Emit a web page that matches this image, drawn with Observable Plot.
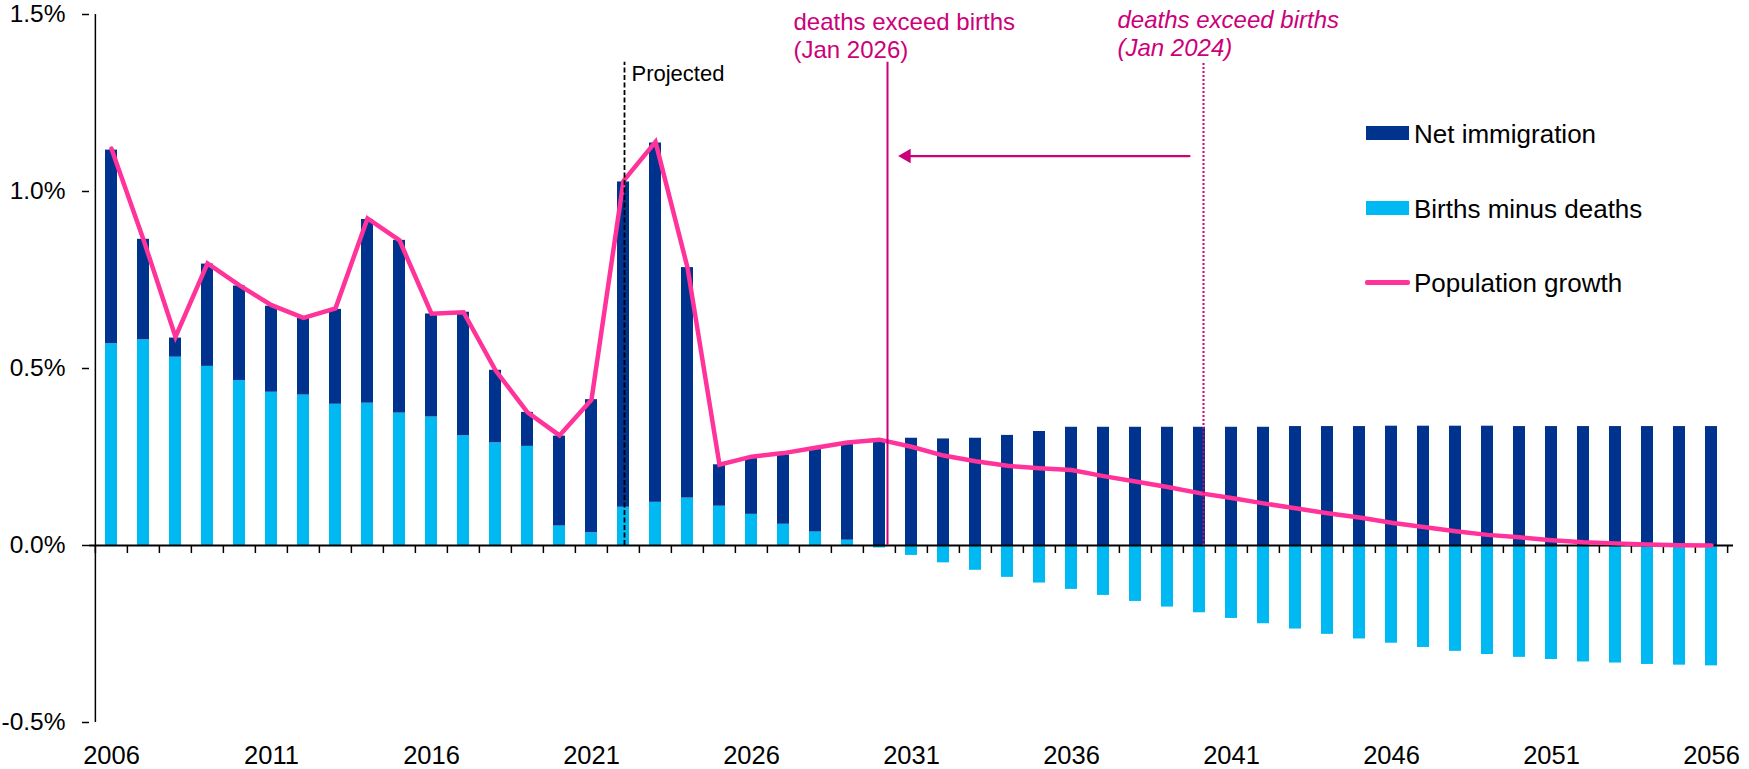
<!DOCTYPE html>
<html>
<head>
<meta charset="utf-8">
<script src="https://cdn.jsdelivr.net/npm/d3@7"></script>
<script src="https://cdn.jsdelivr.net/npm/@observablehq/plot@0.6"></script>
<style>
  body { margin: 0; background: #fff; font-family: "Liberation Sans", Arial, Helvetica, sans-serif; }
  #wrap { position: relative; width: 1749px; height: 769px; overflow: hidden; }
  #wrap svg { position: absolute; left: 0; top: 0; }
  .lg-sw { position: absolute; }
  .lg-tx { position: absolute; font-size: 26px; line-height: 1; color: #000; white-space: nowrap; transform: translateY(-50%); }
</style>
</head>
<body>
<div id="wrap"></div>
<script>
// ---------- data ----------
const years = [2006, 2007, 2008, 2009, 2010, 2011, 2012, 2013, 2014, 2015,
  2016, 2017, 2018, 2019, 2020, 2021, 2022, 2023, 2024, 2025,
  2026, 2027, 2028, 2029, 2030, 2031, 2032, 2033, 2034, 2035,
  2036, 2037, 2038, 2039, 2040, 2041, 2042, 2043, 2044, 2045,
  2046, 2047, 2048, 2049, 2050, 2051, 2052, 2053, 2054, 2055, 2056];

const netImmigration = [0.547, 0.284, 0.054, 0.289, 0.267, 0.243, 0.217, 0.268, 0.519, 0.488,
  0.291, 0.349, 0.205, 0.096, 0.254, 0.376, 0.919, 1.015, 0.651, 0.117,
  0.161, 0.196, 0.233, 0.270, 0.298, 0.303, 0.301, 0.303, 0.311, 0.322,
  0.334, 0.334, 0.334, 0.334, 0.334, 0.334, 0.334, 0.336, 0.336, 0.336,
  0.337, 0.337, 0.337, 0.337, 0.336, 0.336, 0.336, 0.336, 0.336, 0.336, 0.336];

const birthsMinusDeaths = [0.570, 0.581, 0.532, 0.506, 0.466, 0.433, 0.425, 0.399, 0.402, 0.374,
  0.363, 0.310, 0.290, 0.280, 0.055, 0.036, 0.108, 0.122, 0.134, 0.111,
  0.088, 0.060, 0.038, 0.015, -0.007, -0.028, -0.049, -0.070, -0.090, -0.106,
  -0.124, -0.141, -0.158, -0.174, -0.190, -0.206, -0.221, -0.236, -0.251, -0.264,
  -0.276, -0.288, -0.299, -0.308, -0.316, -0.322, -0.329, -0.332, -0.336, -0.338, -0.340];

const populationGrowth = [1.121, 0.864, 0.589, 0.797, 0.735, 0.679, 0.643, 0.670, 0.924, 0.862,
  0.655, 0.659, 0.495, 0.376, 0.311, 0.412, 1.030, 1.140, 0.785, 0.228,
  0.251, 0.261, 0.276, 0.291, 0.299, 0.279, 0.254, 0.238, 0.225, 0.218,
  0.213, 0.196, 0.181, 0.165, 0.148, 0.134, 0.119, 0.105, 0.091, 0.079,
  0.064, 0.052, 0.040, 0.030, 0.023, 0.015, 0.009, 0.006, 0.003, 0.001, 0.000];

const xLabelYears = [2006, 2011, 2016, 2021, 2026, 2031, 2036, 2041, 2046, 2051, 2056];
const yTicks = [-0.5, 0, 0.5, 1.0, 1.5];

const barSeries = ["Births minus deaths", "Net immigration"];
const lineSeries = "Population growth";
const legendOrder = ["Net immigration", "Births minus deaths", "Population growth"];

// annotations (data units)
const projectedYear = 2022;
const projectedLabel = "Projected";
const newCrossYear = 2030;
const newCrossLabel = "deaths exceed births\n(Jan 2026)";
const oldCrossYear = 2040;
const oldCrossLabel = "deaths exceed births\n(Jan 2024)";
const markerTop = 1.365;
const projectedLabelY = 1.312;
const newLabelY = 1.378;
const oldLabelY = 1.384;
const arrowY = 1.10;

// ---------- styles ----------
const DARK = "#00338d", LIGHT = "#00b9f2", PINK = "#ff3399", MAGENTA = "#cc007a";
const colorOf = {"Net immigration": DARK, "Births minus deaths": LIGHT, "Population growth": PINK};
const FONT = '"Liberation Sans", Arial, Helvetica, sans-serif';

const W = 1749, H = 769, ML = 89, MR = 16, MT = 14, MB = 47;
const step = (W - ML - MR) / years.length;

// ---------- tables ----------
const barRows = years.flatMap((yr, i) => [
  {year: yr, series: barSeries[0], value: birthsMinusDeaths[i]},
  {year: yr, series: barSeries[1], value: netImmigration[i]}
]);
const lineRows = years.map((yr, i) => ({year: yr, value: populationGrowth[i]}));

const plot = Plot.plot({
  width: W, height: H,
  marginLeft: ML, marginRight: MR, marginTop: MT, marginBottom: MB,
  style: {fontFamily: FONT, fontSize: "25px", color: "#000", background: "transparent", overflow: "visible"},
  x: {type: "band", domain: years, padding: 0},
  y: {domain: [yTicks[0], yTicks[yTicks.length - 1]]},
  color: {domain: barSeries, range: barSeries.map(s => colorOf[s])},
  marks: [
    Plot.barY(barRows, {x: "year", y: "value", fill: "series", insetLeft: 10, insetRight: 10}),
    // y axis line
    Plot.ruleX([years[0]], {x: d => d, y1: yTicks[0], y2: yTicks[yTicks.length - 1], dx: -step / 2, stroke: "#000", strokeWidth: 1.5}),
    Plot.axisY({ticks: yTicks, tickSize: 7, tickPadding: 17, tickFormat: d => d.toFixed(1) + "%", fontSize: 24.5, stroke: "#000", strokeWidth: 1.5, fill: "#000"}),
    Plot.axisX({ticks: xLabelYears, tickSize: 0, tickPadding: 23, tickFormat: d => String(d), fontSize: 25.5, fill: "#000"}),
    // zero line and boundary ticks
    Plot.ruleY([0], {stroke: "#000", strokeWidth: 2}),
    Plot.ruleX(years, {x: d => d, y1: 0, y2: 0, insetBottom: -8, dx: -step / 2, stroke: "#000", strokeWidth: 1.5}),
    Plot.ruleX([years[years.length - 1]], {x: d => d, y1: 0, y2: 0, insetBottom: -8, dx: step / 2, stroke: "#000", strokeWidth: 1.5}),
    // population growth line
    Plot.lineY(lineRows, {x: "year", y: "value", stroke: PINK, strokeWidth: 4.5, strokeLinejoin: "miter", strokeMiterlimit: 6}),
    // projected marker
    Plot.ruleX([projectedYear], {x: d => d, y1: 0, y2: markerTop, dx: 1, stroke: "#000", strokeWidth: 1.8, strokeDasharray: "5,2.5"}),
    Plot.text([projectedYear], {x: d => d, y: projectedLabelY, text: () => projectedLabel, textAnchor: "start", lineAnchor: "bottom", dx: 8, fontSize: 22, fill: "#000"}),
    // new crossover marker
    Plot.ruleX([newCrossYear], {x: d => d, y1: 0, y2: markerTop, dx: 8, stroke: MAGENTA, strokeWidth: 2}),
    Plot.text([newCrossYear], {x: d => d, y: newLabelY, text: () => newCrossLabel, textAnchor: "start", lineAnchor: "bottom", lineHeight: 28 / 24, dx: -86, fontSize: 24, fill: MAGENTA}),
    // old crossover marker
    Plot.ruleX([oldCrossYear], {x: d => d, y1: 0, y2: markerTop, dx: 4, stroke: MAGENTA, strokeWidth: 2, strokeDasharray: "2,2"}),
    Plot.text([oldCrossYear], {x: d => d, y: oldLabelY, text: () => oldCrossLabel, textAnchor: "start", lineAnchor: "bottom", lineHeight: 28 / 24, dx: -82, fontSize: 24, fontStyle: "italic", fill: MAGENTA}),
    // arrow from old to new
    Plot.arrow([{from: oldCrossYear, to: newCrossYear, y: arrowY}], {x1: "from", x2: "to", y1: "y", y2: "y", insetStart: 10, insetEnd: 26, headLength: 0, stroke: MAGENTA, strokeWidth: 2.2}),
    Plot.dot([{x: newCrossYear, y: arrowY}], {x: "x", y: "y", symbol: "triangle", r: 5.4, rotate: -90, dx: 27, fill: MAGENTA, stroke: "none"})
  ]
});

const wrap = document.getElementById("wrap");
wrap.appendChild(plot);

// ---------- legend (overlay) ----------
const legendTops = {"Net immigration": 133, "Births minus deaths": 208, "Population growth": 282};
legendOrder.forEach(name => {
  const cy = legendTops[name];
  const sw = document.createElement("div");
  sw.className = "lg-sw";
  if (name === lineSeries) {
    Object.assign(sw.style, {left: "1365px", top: (cy - 2) + "px", width: "45px", height: "4.5px", background: colorOf[name], borderRadius: "2px"});
  } else {
    Object.assign(sw.style, {left: "1366px", top: (cy - 7) + "px", width: "43px", height: "14px", background: colorOf[name]});
  }
  wrap.appendChild(sw);
  const tx = document.createElement("div");
  tx.className = "lg-tx";
  tx.style.left = "1414px";
  tx.style.top = (cy + 1) + "px";
  tx.textContent = name;
  wrap.appendChild(tx);
});
</script>
</body>
</html>
